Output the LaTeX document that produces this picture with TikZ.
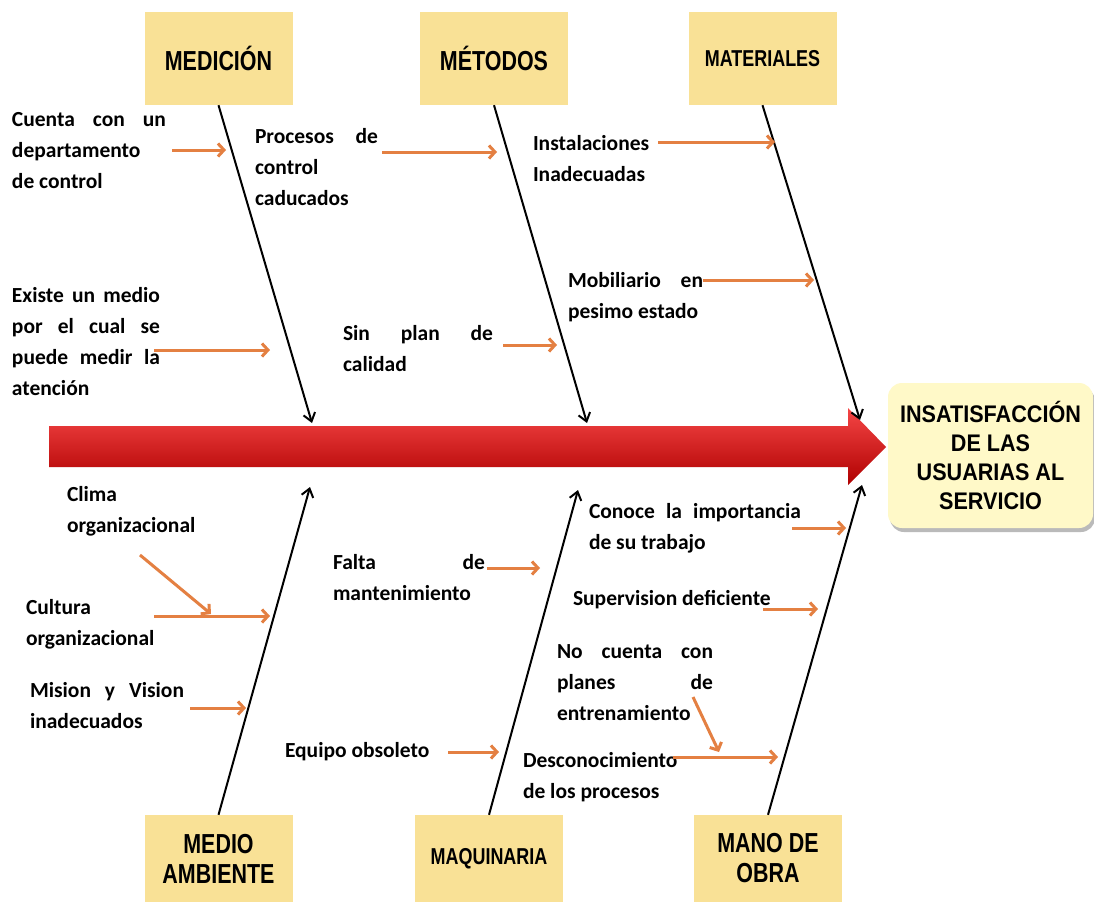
\documentclass[tikz,border=0pt]{standalone}
\usepackage{fontspec}
\setmainfont{Carlito}
\newfontfamily\hdrfont[FakeStretch=0.78]{Liberation Sans}
\newfontfamily\efffont[FakeStretch=0.9]{Liberation Sans}
\usetikzlibrary{arrows.meta,shadows}
\definecolor{hdrfill}{RGB}{249,225,150}
\definecolor{efffill}{RGB}{255,249,200}
\definecolor{orng}{RGB}{228,128,66}
\definecolor{redtop}{RGB}{245,70,70}
\definecolor{redmid}{RGB}{225,20,20}
\definecolor{redbot}{RGB}{175,0,0}
\newcommand\fstrut{\rule{0pt}{16pt}}
\begin{document}
\begin{tikzpicture}[x=1pt,y=-1pt,
  lbl/.style={anchor=north west, inner sep=0pt, outer sep=0pt, align=left,
    font=\bfseries\fontsize{21.5}{31}\selectfont},
  hdrbox/.style={fill=hdrfill, minimum width=148pt, inner sep=0pt, align=center,
    font=\hdrfont\bfseries\fontsize{27.5}{30}\selectfont},
  tophdr/.style={hdrbox, minimum height=93pt},
  bothdr/.style={hdrbox, minimum height=87pt},
  smallhdr/.style={font=\hdrfont\bfseries\fontsize{23}{26}\selectfont},
  bone/.style={black, line width=2pt, -{Straight Barb[length=8pt,width=12pt]}},
  sub/.style={orng, line width=3pt, -{Straight Barb[length=6pt,width=13pt]}}
]
\useasboundingbox (0,0) rectangle (1094,902);
\fill[white] (0,0) rectangle (1094,902);

% spine
\shade[top color=redtop, middle color=redmid, bottom color=redbot]
  (49,426) -- (848,426) -- (848,408) -- (886,447) -- (848,485) -- (848,467) -- (49,467) -- cycle;

% effect box
\node[fill=efffill, rounded corners=14pt, minimum width=205pt, minimum height=145pt,
  inner sep=0pt, align=center, font=\efffont\bfseries\fontsize{24}{29.3}\selectfont,
  drop shadow={shadow xshift=2pt, shadow yshift=-4pt, opacity=0.45, fill=black!60}]
  (eff) at (990.5,455.5) {INSATISFACCIÓN\\DE LAS\\USUARIAS AL\\SERVICIO};

% category boxes
\node[tophdr] (med) at (218.5,58.5) {MEDICIÓN};
\node[tophdr] (met) at (494,58.5) {MÉTODOS};
\node[tophdr, smallhdr] (mat) at (762.5,58.5) {MATERIALES};
\node[bothdr] (amb) at (218.5,858.5) {MEDIO\\AMBIENTE};
\node[bothdr, smallhdr] (maq) at (489,858.5) {MAQUINARIA};
\node[bothdr] (mano) at (768,858.5) {MANO DE\\OBRA};

% bone end points on spine
\coordinate (e1) at (312,423);
\coordinate (e2) at (587,423);
\coordinate (e3) at (860,420);
\coordinate (e4) at (310,487);
\coordinate (e5) at (578,490);
\coordinate (e6) at (862,485);

\draw[bone] (med.south) -- (e1);
\draw[bone] (met.south) -- (e2);
\draw[bone] (mat.south) -- (e3);
\draw[bone] (amb.north) -- (e4);
\draw[bone] (maq.north) -- (e5);
\draw[bone] (mano.north) -- (e6);

% cause texts
\node[lbl] (t1) at (12,110) {\fstrut\makebox[154pt][s]{Cuenta con un}\\departamento\\de control};
\node[lbl] (t2) at (255,127) {\fstrut\makebox[123pt][s]{Procesos de}\\control\\caducados};
\node[lbl] (t3) at (533,134) {\fstrut Instalaciones\\Inadecuadas};
\node[lbl] (t4) at (12,286) {\fstrut\makebox[148pt][s]{Existe un medio}\\\makebox[148pt][s]{por el cual se}\\\makebox[148pt][s]{puede medir la}\\atención};
\node[lbl] (t5) at (343,324) {\fstrut\makebox[150pt][s]{Sin plan de}\\calidad};
\node[lbl] (t6) at (568,271) {\fstrut\makebox[135pt][s]{Mobiliario en}\\pesimo estado};
\node[lbl] (t7) at (67,485) {\fstrut Clima\\organizacional};
\node[lbl] (t8) at (26,598) {\fstrut Cultura\\organizacional};
\node[lbl] (t9) at (30,681) {\fstrut\makebox[154pt][s]{Mision y Vision}\\inadecuados};
\node[lbl] (t10) at (333,553) {\fstrut\makebox[152pt][s]{Falta de}\\mantenimiento};
\node[lbl] (t11) at (589,502) {\fstrut\makebox[212pt][s]{Conoce la importancia}\\de su trabajo};
\node[lbl] (t12) at (573,589) {\fstrut Supervision deficiente};
\node[lbl] (t13) at (557,642) {\fstrut\makebox[156pt][s]{No cuenta con}\\\makebox[156pt][s]{planes de}\\entrenamiento};
\node[lbl] (t14) at (285,741) {\fstrut Equipo obsoleto};
\node[lbl] (t15) at (523,751) {\fstrut Desconocimiento\\de los procesos};

% sub-cause arrows
\coordinate (s1) at (172,150);  \coordinate (f1) at (226,150);
\coordinate (s2) at (382,152);  \coordinate (f2) at (497,152);
\coordinate (s3) at (658,142);  \coordinate (f3) at (775,142);
\coordinate (s4) at (154,350);  \coordinate (f4) at (270,350);
\coordinate (s5) at (503,345);  \coordinate (f5) at (557,345);
\coordinate (s6) at (703,280);  \coordinate (f6) at (814,280);
\coordinate (s7) at (140,555);  \coordinate (f7) at (211,614);
\coordinate (s8) at (154,616);  \coordinate (f8) at (270,616);
\coordinate (s9) at (190,708);  \coordinate (f9) at (246,708);
\coordinate (s10) at (487,568); \coordinate (f10) at (540,568);
\coordinate (s11) at (792,528); \coordinate (f11) at (846,528);
\coordinate (s12) at (763,609); \coordinate (f12) at (818,609);
\coordinate (s13) at (693,697); \coordinate (f13) at (719,752);
\coordinate (s14) at (673,757); \coordinate (f14) at (778,757);
\coordinate (s15) at (448,752); \coordinate (f15) at (499,752);

\foreach \i in {1,...,15} {\draw[sub] (s\i) -- (f\i);}
\end{tikzpicture}
\end{document}
